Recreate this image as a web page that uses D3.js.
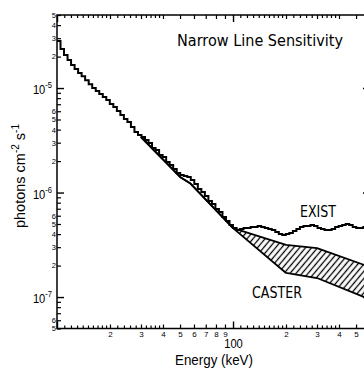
<!DOCTYPE html>
<html>
<head>
<meta charset="utf-8">
<script src="https://cdn.jsdelivr.net/npm/d3@7"></script>
<style>
  html, body { margin: 0; padding: 0; background: #fff; }
  svg { display: block; }
</style>
</head>
<body>
<div id="container"></div>
<script>
// flux values below are in units of 1e-7 photons cm^-2 s^-1
const unit = 1e-7;

// EXIST narrow line sensitivity, histogram bin edges (keV) and flux per bin
const existEdges = [
  10, 10.47, 10.96, 11.48, 12.02, 12.59, 13.18, 13.8, 14.45, 15.14,
  15.85, 16.6, 17.38, 18.2, 19.05, 19.95, 20.89, 21.88, 22.91, 23.99,
  25.12, 26.3, 27.54, 28.84, 30.2, 31.62, 33.11, 34.67, 36.31, 38.02,
  39.81, 41.69, 43.65, 45.71, 47.86, 50.12, 52.48, 54.95, 57.54, 60.26,
  63.1, 66.07, 69.18, 72.44, 75.86, 79.43, 83.18, 87.1, 91.2, 95.5,
  100, 104.7, 109.6, 114.8, 120.2, 125.9, 131.8, 138, 144.5, 151.4,
  158.5, 166, 173.8, 182, 190.5, 199.5, 208.9, 218.8, 229.1, 239.9,
  251.2, 263, 275.4, 288.4, 302, 316.2, 331.1, 346.7, 363.1, 380.2,
  398.1, 416.9, 436.5, 457.1, 478.6, 501.2, 524.8, 549.5, 575.4, 602.6,
];
const existFlux = [
  282, 236, 207, 185, 166, 152, 139, 130, 119, 109,
  100, 93.6, 87.6, 82, 76.8, 70.3, 65.8, 60.3, 55.2, 50.5,
  47.3, 42.4, 37.9, 35.5, 34, 31.8, 29.8, 26.7, 25.5, 22.9,
  21.9, 19.6, 18.3, 16.8, 15.4, 14.7, 14.4, 14.1, 13.2, 12.1,
  10.8, 10.1, 9.26, 8.29, 7.76, 6.95, 6.51, 5.83, 5.34, 4.89,
  4.57, 4.38, 4.47, 4.57, 4.57, 4.68, 4.68, 4.78, 4.68, 4.57,
  4.47, 4.38, 4.19, 4.01, 3.92, 4.01, 4.1, 4.28, 4.47, 4.68,
  4.78, 4.78, 4.89, 4.78, 4.57, 4.47, 4.38, 4.38, 4.47, 4.68,
  4.78, 4.89, 4.99, 4.89, 4.68, 4.57, 4.57, 4.68, 4.68,
];

// CASTER band (upper / lower edge)
const casterEnergy = [30, 50, 57, 100, 200, 300, 600];
const casterUpper = [34, 14.1, 12.3, 4.57, 3.15, 2.94, 1.94];
const casterLower = [34, 14.1, 12.3, 4.57, 1.7, 1.52, 0.95];

// tick layout
const xDecades = [10, 100];
const xSubSteps = [1.1, 1.2, 1.3, 1.4, 1.5, 1.6, 1.7, 1.8, 1.9, 2.2, 2.4, 2.6, 2.8, 3.2, 3.4, 3.6, 3.8];
const xDigits = [2, 3, 4, 5, 6, 7, 8, 9];
const yDecades = [1e-8, 1e-7, 1e-6, 1e-5];
const yDigits = [2, 3, 4, 5, 6, 7, 8, 9];
const yLabelledDigits = [2, 3, 4, 5, 6];

const width = 364;
const height = 368;
const padL = 57, padR = 370, padT = 15, padB = 328.5;
const squeeze = 0.89; // original figure is a bit narrow horizontally

const svg = d3.select('#container').append('svg')
  .attr('width', width)
  .attr('height', height);

const x = d3.scaleLog().domain([10, 600]).range([padL, padR]);
const y = d3.scaleLog().domain([5e-8, 5e-5]).range([padB, padT]);

const inX = (v) => v >= 9.99 && v <= 600.5;
const inY = (v) => v >= 4.99e-8 && v <= 5.01e-5;

const xSub = xDecades.flatMap((d) => xSubSteps.map((s) => d * s)).filter(inX);
const xDig = xDecades.flatMap((d) => xDigits.map((s) => d * s)).filter(inX);
const yLab = yDecades.flatMap((d) => yLabelledDigits.map((s) => d * s)).filter(inY);
const yUnlab = yDecades.flatMap((d) => yDigits.filter((s) => !yLabelledDigits.includes(s)).map((s) => d * s)).filter(inY);
const yMaj = yDecades.filter(inY);

const digitOf = (d) => Math.round(d / 10 ** Math.floor(Math.log10(d) + 1e-9));

// hatching
const defs = svg.append('defs');
defs.append('clipPath').attr('id', 'clip')
  .append('rect')
  .attr('x', padL).attr('y', padT)
  .attr('width', padR - padL).attr('height', padB - padT);
defs.append('pattern')
  .attr('id', 'hatch')
  .attr('patternUnits', 'userSpaceOnUse')
  .attr('width', 4.6).attr('height', 4.6)
  .attr('patternTransform', 'rotate(40)')
  .append('line')
  .attr('x1', 2.3).attr('y1', -1).attr('x2', 2.3).attr('y2', 6)
  .attr('stroke', '#000').attr('stroke-width', 1.3);

// plot
const plot = svg.append('g').attr('clip-path', 'url(#clip)');

const caster = casterEnergy.map((e, i) => ({ e, hi: casterUpper[i] * unit, lo: casterLower[i] * unit }));
plot.append('path')
  .datum(caster)
  .attr('fill', 'url(#hatch)')
  .attr('d', d3.area().x((d) => x(d.e)).y0((d) => y(d.lo)).y1((d) => y(d.hi)));
['hi', 'lo'].forEach((k) => {
  plot.append('path')
    .datum(caster)
    .attr('fill', 'none')
    .attr('stroke', '#000')
    .attr('stroke-width', 1.8)
    .attr('stroke-linejoin', 'round')
    .attr('d', d3.line().x((d) => x(d.e)).y((d) => y(d[k])));
});

const existPts = existFlux.map((v, i) => [existEdges[i], v * unit]);
existPts.push([existEdges[existEdges.length - 1], existFlux[existFlux.length - 1] * unit]);
plot.append('path')
  .datum(existPts)
  .attr('fill', 'none')
  .attr('stroke', '#000')
  .attr('stroke-width', 2)
  .attr('d', d3.line().curve(d3.curveStepAfter).x((d) => x(d[0])).y((d) => y(d[1])));

// axes
function tidy(g, w) {
  g.select('.domain').remove();
  g.selectAll('.tick line').attr('stroke-width', w || 1.2);
}

// labels only for ticks that fall inside the picture
const xDigitLabel = (d) => (x(d) < width - 5 ? digitOf(d) : '');

const axB = svg.append('g').attr('transform', `translate(0,${padB})`);
axB.append('g').call(d3.axisBottom(x).tickValues(xSub).tickSize(-3).tickFormat('')).call(tidy);
axB.append('g').call(d3.axisBottom(x).tickValues(xDig).tickSize(-4).tickPadding(2.5).tickFormat(xDigitLabel)).call(tidy)
  .selectAll('text').attr('font-family', 'Liberation Sans, Arial, sans-serif').attr('font-size', 8);
axB.append('g').call(d3.axisBottom(x).tickValues(xDecades).tickSize(-7).tickPadding(11)
  .tickFormat((d) => (d === 100 ? '100' : ''))).call(tidy, 1.4)
  .selectAll('text').attr('font-family', 'Liberation Sans, Arial, sans-serif').attr('font-size', 12.5)
  .attr('transform', `scale(${squeeze},1)`);

const axT = svg.append('g').attr('transform', `translate(0,${padT})`);
axT.append('g').call(d3.axisTop(x).tickValues(xSub).tickSize(-3).tickFormat('')).call(tidy);
axT.append('g').call(d3.axisTop(x).tickValues(xDig).tickSize(-4).tickFormat('')).call(tidy);
axT.append('g').call(d3.axisTop(x).tickValues(xDecades).tickSize(-7).tickFormat('')).call(tidy, 1.4);

const axL = svg.append('g').attr('transform', `translate(${padL},0)`);
axL.append('g').call(d3.axisLeft(y).tickValues(yUnlab).tickSize(-4).tickFormat('')).call(tidy);
axL.append('g').call(d3.axisLeft(y).tickValues(yLab).tickSize(-4).tickPadding(1).tickFormat(digitOf)).call(tidy)
  .selectAll('text').attr('font-family', 'Liberation Sans, Arial, sans-serif').attr('font-size', 7.5);
axL.append('g').call(d3.axisLeft(y).tickValues(yMaj).tickSize(-7).tickFormat('')).call(tidy, 1.4);

const axR = svg.append('g').attr('transform', `translate(${padR},0)`);
axR.append('g').call(d3.axisRight(y).tickValues(yUnlab.concat(yLab)).tickSize(-4).tickFormat('')).call(tidy);
axR.append('g').call(d3.axisRight(y).tickValues(yMaj).tickSize(-7).tickFormat('')).call(tidy, 1.4);

// decade labels 10^-n
yMaj.forEach((d) => {
  const t = svg.append('text')
    .attr('transform', `translate(52,${y(d) + 6}) scale(${squeeze},1)`)
    .attr('text-anchor', 'end')
    .attr('font-family', 'Liberation Sans, Arial, sans-serif')
    .attr('font-size', 12.5);
  t.append('tspan').text('10');
  t.append('tspan').attr('dy', -6).attr('font-size', 8.5).text(String(Math.round(Math.log10(d))));
});

// frame
const frame = svg.append('g').attr('stroke', '#000').attr('stroke-width', 1.5).attr('fill', 'none');
frame.append('path').attr('d', `M${padL},${padT}H${padR}V${padB}H${padL}Z`);

// texts
const sans = 'DejaVu Sans, Verdana, sans-serif';
svg.append('text')
  .attr('x', 177).attr('y', 46)
  .attr('font-family', sans).attr('font-size', 16)
  .attr('textLength', 166).attr('lengthAdjust', 'spacingAndGlyphs')
  .text('Narrow Line Sensitivity');
svg.append('text')
  .attr('x', 300).attr('y', 217)
  .attr('font-family', sans).attr('font-size', 15)
  .attr('textLength', 36).attr('lengthAdjust', 'spacingAndGlyphs')
  .text('EXIST');
svg.append('text')
  .attr('x', 252).attr('y', 298)
  .attr('font-family', sans).attr('font-size', 15)
  .attr('textLength', 50).attr('lengthAdjust', 'spacingAndGlyphs')
  .text('CASTER');

svg.append('text')
  .attr('x', 175).attr('y', 365)
  .attr('font-family', 'Liberation Sans, Arial, sans-serif').attr('font-size', 15)
  .attr('textLength', 78).attr('lengthAdjust', 'spacingAndGlyphs')
  .text('Energy (keV)');

const yl = svg.append('text')
  .attr('transform', 'translate(24.5,176) rotate(-90)')
  .attr('text-anchor', 'middle')
  .attr('font-family', 'Liberation Sans, Arial, sans-serif')
  .attr('font-size', 14.5);
yl.append('tspan').text('photons cm');
yl.append('tspan').attr('dy', -6).attr('font-size', 10).text('-2');
yl.append('tspan').attr('dy', 6).text(' s');
yl.append('tspan').attr('dy', -6).attr('font-size', 10).text('-1');
</script>
</body>
</html>
